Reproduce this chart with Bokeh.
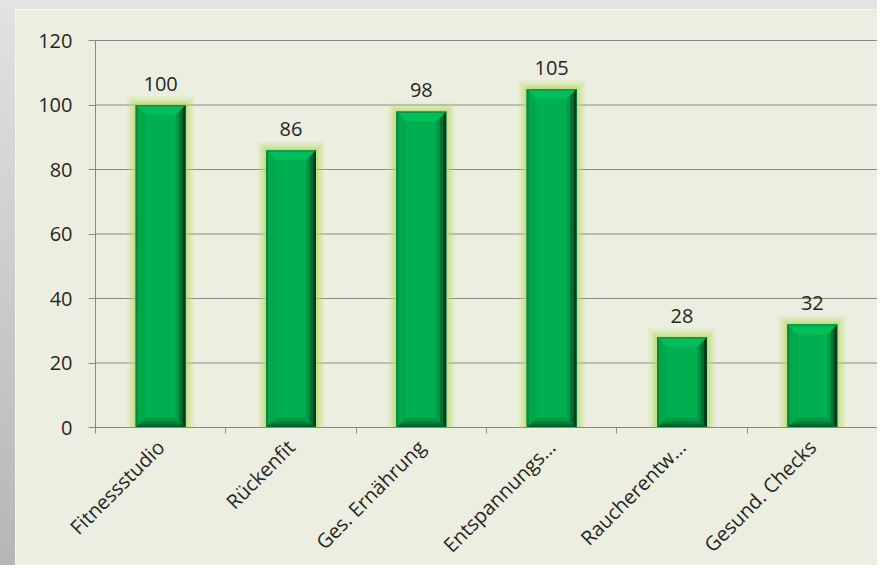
import math
import numpy as np
from bokeh.plotting import figure
from bokeh.models import ColumnDataSource, Range1d, FixedTicker, LabelSet, Div
from bokeh.layouts import column, row
from bokeh.embed import file_html
from bokeh.resources import INLINE
from bokeh.core.properties import value

# ---- data ----
categories = ["Fitnessstudio", "Rückenfit", "Ges. Ernährung", "Entspannungs…", "Raucherentw…", "Gesund. Checks"]
values = [100, 86, 98, 105, 28, 32]
y_ticks = [0, 20, 40, 60, 80, 100, 120]

# ---- layout (pixels) ----
TOTAL_W, TOTAL_H = 877, 565
SL, ST = 15, 9             # gray outer strips (left, top)
W, H = TOTAL_W - SL, TOTAL_H - ST
PL, PT, PB = 80, 31, 138   # space for y labels / above plot / for x labels
FONT = "Open Sans"
FS = "20px"
TXT = "#262626"
PANEL = "#ECEFDF"
GRID = "#8a8a8a"

n = len(categories)
ymax = y_ticks[-1]
ppx = (W - PL) / n
ppy = (H - PT - PB) / ymax

p = figure(width=W, height=H,
           x_range=Range1d(-PL / ppx, n), y_range=Range1d(-PB / ppy, ymax + PT / ppy),
           output_backend="svg", toolbar_location=None, min_border=0)
p.background_fill_color = PANEL
p.border_fill_color = PANEL
p.outline_line_color = None
p.xgrid.visible = False
p.ygrid.visible = False

xs = np.arange(n) + 0.5
vals = np.array(values, dtype=float)
w = 50 / ppx

# horizontal gridlines
p.segment(x0=0, x1=n, y0=y_ticks, y1=y_ticks, line_color=GRID, line_width=1)

# glow
for k, a in [(9, 0.12), (7, 0.16), (5, 0.22), (3, 0.3), (1.5, 0.4)]:
    p.vbar(x=xs, top=vals + k / ppy, bottom=0, width=w + 2 * k / ppx,
           fill_color="#b7d96a", fill_alpha=a, line_color=None)

# main face
p.vbar(x=xs, top=vals, bottom=0, width=w, fill_color="#00B050", line_color=None)

# bevel faces
B = 10.0  # px
def face_polys(kind, d0, d1):
    px, py = [], []
    for x, v in zip(xs, vals):
        x0, x1 = x - w / 2, x + w / 2
        if kind == "right":
            px.append([x1 - d0 / ppx, x1 - d0 / ppx, x1 - d1 / ppx, x1 - d1 / ppx])
            py.append([v - d0 / ppy, d0 / ppy, d1 / ppy, v - d1 / ppy])
        elif kind == "left":
            px.append([x0 + d0 / ppx, x0 + d0 / ppx, x0 + d1 / ppx, x0 + d1 / ppx])
            py.append([v - d0 / ppy, d0 / ppy, d1 / ppy, v - d1 / ppy])
        elif kind == "top":
            px.append([x0 + d0 / ppx, x1 - d0 / ppx, x1 - d1 / ppx, x0 + d1 / ppx])
            py.append([v - d0 / ppy, v - d0 / ppy, v - d1 / ppy, v - d1 / ppy])
        elif kind == "bottom":
            px.append([x0 + d0 / ppx, x1 - d0 / ppx, x1 - d1 / ppx, x0 + d1 / ppx])
            py.append([d0 / ppy, d0 / ppy, d1 / ppy, d1 / ppy])
    return px, py

layers = [
    ("top", 0, B, "#00BE5A"),
    ("top", 0, 1.5, "#009A45"),
    ("left", 0, B, "#00A74B"),
    ("left", 0, 2, "#008C3D"),
    ("bottom", 0, B, "#009A45"),
    ("bottom", 0, 6, "#007F38"),
    ("bottom", 0, 3, "#00602A"),
    ("right", 6.6, B, "#009A45"),
    ("right", 3.3, 6.6, "#006F31"),
    ("right", 0, 3.3, "#003F1C"),
]
for kind, d0, d1, col in layers:
    px, py = face_polys(kind, d0, d1)
    p.patches(px, py, fill_color=col, line_color=None)

# data labels
src = ColumnDataSource(dict(x=xs, y=vals, t=[str(v) for v in values]))
p.add_layout(LabelSet(source=src, x="x", y="y", text="t", y_offset=14,
                      text_align="center", text_baseline="alphabetic",
                      text_font=value(FONT), text_font_size=FS, text_color=TXT))

# y axis, placed at x = 0 inside the frame
p.yaxis.fixed_location = 0
p.yaxis.bounds = (0, ymax)
p.yaxis.ticker = FixedTicker(ticks=y_ticks)
p.yaxis.axis_line_color = GRID
p.yaxis.major_tick_line_color = GRID
p.yaxis.major_tick_out = 7
p.yaxis.major_tick_in = 0
p.yaxis.minor_tick_line_color = None
p.yaxis.major_label_standoff = 16
p.yaxis.major_label_text_font = FONT
p.yaxis.major_label_text_font_size = FS
p.yaxis.major_label_text_color = TXT

# x axis, placed at y = 0, ticks at category boundaries, labels at centers
p.xaxis.fixed_location = 0
p.xaxis.bounds = (0, n)
p.xaxis.ticker = FixedTicker(ticks=list(xs), minor_ticks=list(range(n + 1)))
p.xaxis.major_label_overrides = {float(x): c for x, c in zip(xs, categories)}
p.xaxis.axis_line_color = GRID
p.xaxis.major_tick_line_color = None
p.xaxis.major_tick_out = 0
p.xaxis.major_tick_in = 0
p.xaxis.minor_tick_line_color = GRID
p.xaxis.minor_tick_out = 6
p.xaxis.minor_tick_in = 0
p.xaxis.major_label_orientation = math.pi / 4
p.xaxis.major_label_standoff = 10
p.xaxis.major_label_text_font = FONT
p.xaxis.major_label_text_font_size = "20px"
p.xaxis.major_label_text_color = TXT

# outer gray frame strips
top_strip = Div(text="", width=TOTAL_W, height=ST, margin=(0, 0, 0, 0),
                styles={"background": "#e3e3e3"})
left_strip = Div(text="", width=SL, height=H, margin=(0, 0, 0, 0),
                 styles={"background": "linear-gradient(#e1e1e1, #b6b6b6)"})
layout = column(top_strip, row(left_strip, p, spacing=0), spacing=0)

open("out.html", "w").write(file_html(layout, INLINE))
